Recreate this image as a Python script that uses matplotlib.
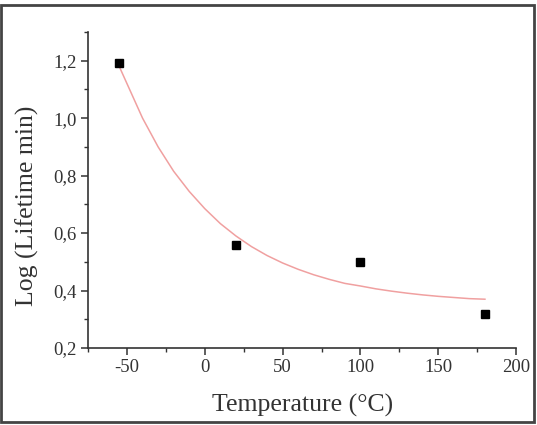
import matplotlib.pyplot as plt
from matplotlib.ticker import MultipleLocator, FuncFormatter
from matplotlib.patches import Rectangle

plt.rcParams['font.family'] = ['Liberation Serif', 'DejaVu Serif']
plt.rcParams['axes.unicode_minus'] = False

# measured points
temp = [-55, 20, 100, 180]
log_life = [1.19, 0.56, 0.50, 0.32]

# fitted curve
fit_temp = [-55, -45, -40, -30, -20, -10, 0, 10, 20, 30, 40, 50, 60, 70,
            80, 90, 100, 110, 120, 130, 140, 150, 160, 170, 180]
fit_val = [1.18, 1.06, 1.00, 0.90, 0.815, 0.745, 0.685, 0.633, 0.590, 0.553,
           0.522, 0.496, 0.474, 0.455, 0.439, 0.425, 0.416, 0.406, 0.398,
           0.391, 0.385, 0.380, 0.376, 0.372, 0.370]

fig = plt.figure(figsize=(5.37, 4.25), dpi=100)
ax = fig.add_axes([0.164, 0.181, 0.797, 0.744])

ax.plot(fit_temp, fit_val, color='#f0a0a0', lw=1.1, zorder=2)
ax.plot(temp, log_life, 's', color='black', ms=5.8, zorder=3)

ax.set_xlim(-75, 200)
ax.set_ylim(0.2, 1.3)
ax.xaxis.set_major_locator(MultipleLocator(50))
ax.xaxis.set_minor_locator(MultipleLocator(25))
ax.yaxis.set_major_locator(MultipleLocator(0.2))
ax.yaxis.set_minor_locator(MultipleLocator(0.1))
ax.yaxis.set_major_formatter(FuncFormatter(lambda v, p: f'{v:.1f}'.replace('.', ',')))

for s in ['top', 'right']:
    ax.spines[s].set_visible(False)
for s in ['left', 'bottom']:
    ax.spines[s].set_color('#333333')
    ax.spines[s].set_linewidth(1.2)

ax.tick_params(which='major', direction='out', length=5, width=1.1,
               color='#333333', labelsize=13.5, labelcolor='#333333', pad=3)
ax.tick_params(which='minor', direction='out', length=3, width=1.0, color='#333333')

ax.set_xlabel('Temperature (°C)', fontsize=18.5, color='#333333', va='center')
ax.set_ylabel('Log (Lifetime min)', fontsize=18.5, color='#333333', va='center')
ax.xaxis.set_label_coords(0.5, -0.18)
ax.yaxis.set_label_coords(-0.143, 0.45)

# outer frame around the whole picture
fig.patches.append(Rectangle((0.002, 0.006), 0.993, 0.983, transform=fig.transFigure,
                             fill=False, edgecolor='#444444', lw=2))

fig.savefig('out.png', dpi=100)
